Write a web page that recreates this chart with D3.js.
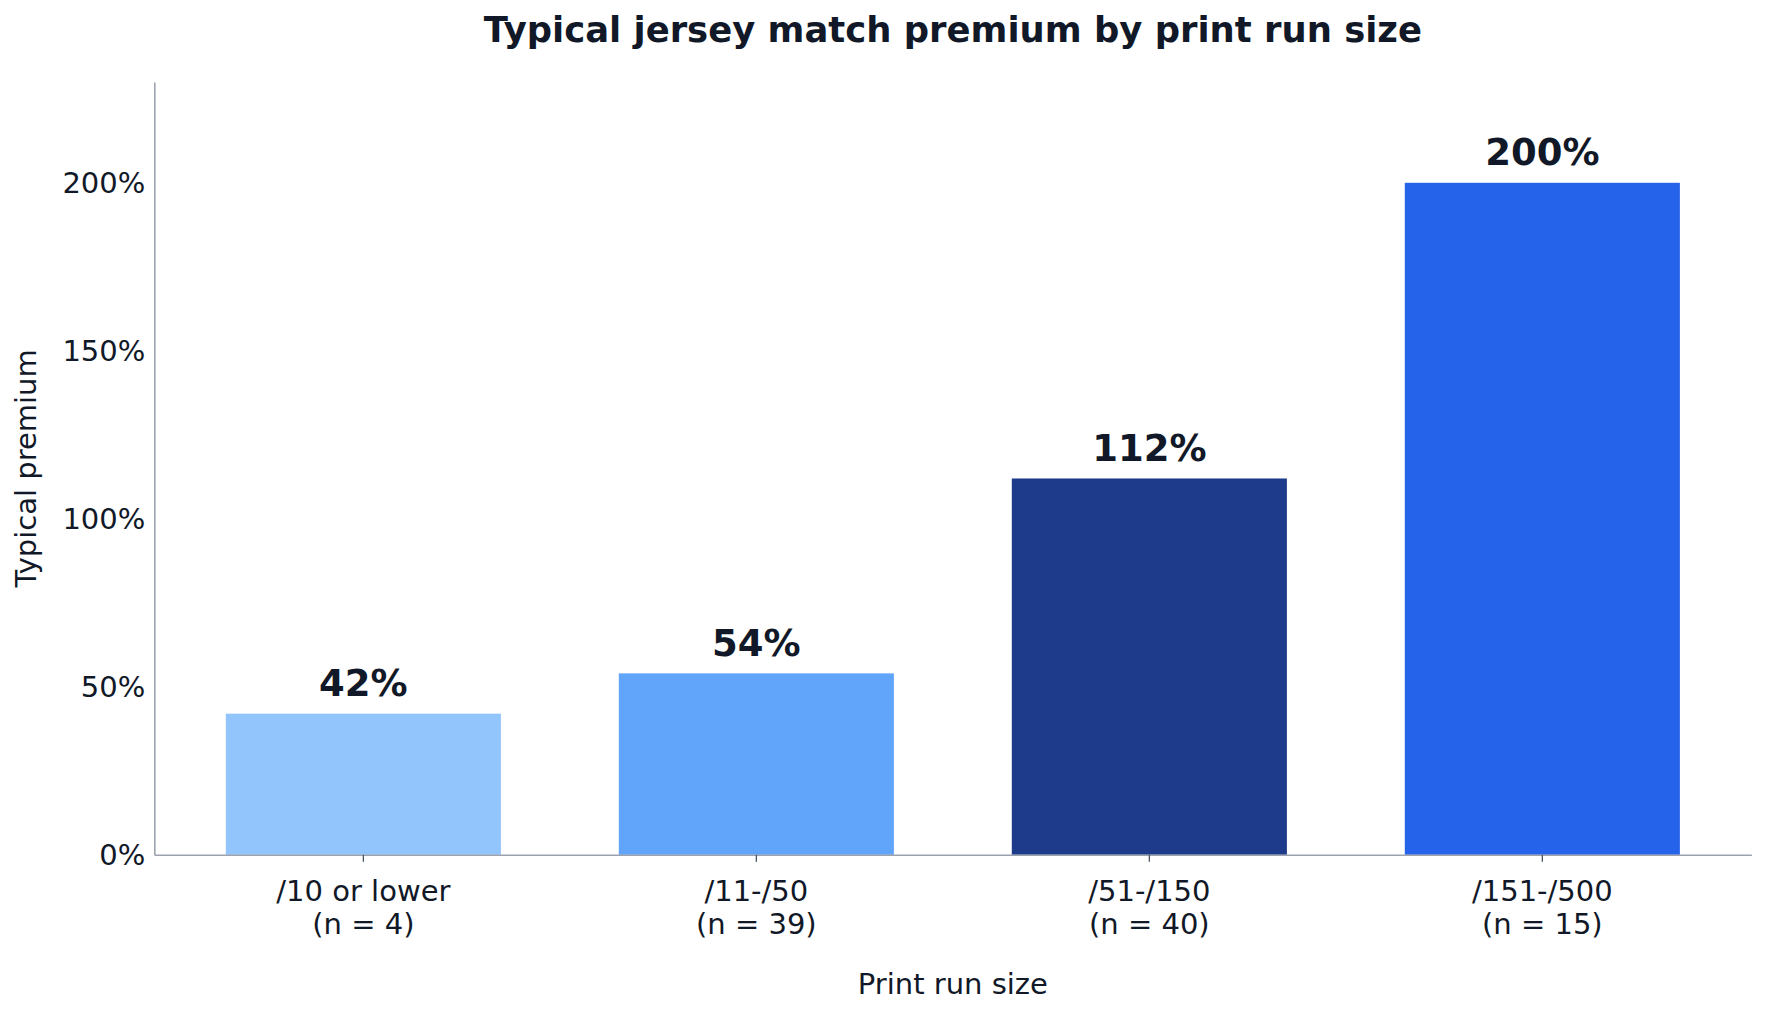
<!DOCTYPE html>
<html>
<head>
<meta charset="utf-8">
<script src="https://cdn.jsdelivr.net/npm/d3@7"></script>
<style>
  html, body { margin: 0; padding: 0; background: #fff; }
  svg { display: block; font-family: 'DejaVu Sans', sans-serif; }
</style>
</head>
<body>
<svg id="chart" width="1766" height="1014"></svg>
<script>
'use strict';

const categories = ['/10 or lower', '/11-/50', '/51-/150', '/151-/500'];
const sampleSizes = [4, 39, 40, 15];
const premiums = [42, 54, 112, 200];
const barColors = ['#93c5fd', '#60a5fa', '#1e3a8a', '#2563eb'];
const yTicks = [0, 50, 100, 150, 200];

const svg = d3.select('#chart');
const width = +svg.attr('width');
const height = +svg.attr('height');

const margin = { top: 82, right: 14.6, bottom: 159.2, left: 154.3 };
const textColor = '#111827';
const axisColor = '#9ca3af';
const fontFamily = 'DejaVu Sans';

const x = d3.scaleBand()
  .domain(categories)
  .range([margin.left, width - margin.right])
  .paddingInner(0.3)
  .paddingOuter(0.182);

const y = d3.scaleLinear()
  .domain([0, 230])
  .range([height - margin.bottom, margin.top]);

const rows = categories.map((c, i) => ({
  category: c,
  n: sampleSizes[i],
  value: premiums[i],
  color: barColors[i]
}));

// bars
svg.append('g')
  .selectAll('rect')
  .data(rows)
  .join('rect')
  .attr('x', d => x(d.category))
  .attr('y', d => y(d.value))
  .attr('width', x.bandwidth())
  .attr('height', d => y(0) - y(d.value))
  .attr('fill', d => d.color);

// value labels above bars
svg.append('g')
  .selectAll('text')
  .data(rows)
  .join('text')
  .attr('x', d => x(d.category) + x.bandwidth() / 2)
  .attr('y', d => y(d.value) - 17.5)
  .attr('text-anchor', 'middle')
  .attr('font-family', fontFamily)
  .attr('font-size', 37)
  .attr('font-weight', 'bold')
  .attr('fill', textColor)
  .text(d => `${d.value}%`);

// y axis (no tick marks, spine only)
const yAxis = svg.append('g')
  .attr('transform', `translate(${margin.left},0)`)
  .call(d3.axisLeft(y).tickValues(yTicks).tickSize(0).tickPadding(9).tickFormat(d => `${d}%`));
yAxis.attr('font-family', fontFamily);
yAxis.select('.domain').attr('stroke', axisColor).attr('stroke-width', 1.6);
yAxis.selectAll('text')
  .attr('font-size', 29)
  .attr('font-family', fontFamily)
  .attr('fill', textColor);

// x axis with two-line tick labels
const xAxis = svg.append('g')
  .attr('transform', `translate(0,${y(0)})`)
  .call(d3.axisBottom(x).tickSizeOuter(0).tickSizeInner(7).tickFormat(''));
xAxis.attr('font-family', fontFamily);
xAxis.select('.domain').attr('stroke', axisColor).attr('stroke-width', 1.6);
xAxis.selectAll('.tick line').attr('stroke', '#4b5563').attr('stroke-width', 1.3);

const tickText = xAxis.selectAll('.tick')
  .append('text')
  .attr('text-anchor', 'middle')
  .attr('font-family', fontFamily)
  .attr('font-size', 29)
  .attr('fill', textColor);
tickText.append('tspan')
  .attr('x', 0)
  .attr('y', 46.5)
  .text(d => d);
tickText.append('tspan')
  .attr('x', 0)
  .attr('y', 79.5)
  .text(d => `(n = ${sampleSizes[categories.indexOf(d)]})`);

// axis titles
const plotMidX = (margin.left + width - margin.right) / 2;
svg.append('text')
  .attr('x', plotMidX)
  .attr('y', 994)
  .attr('text-anchor', 'middle')
  .attr('font-family', fontFamily)
  .attr('font-size', 29)
  .attr('fill', textColor)
  .text('Print run size');

svg.append('text')
  .attr('transform', `translate(36,${(y(0) + y(230)) / 2}) rotate(-90)`)
  .attr('text-anchor', 'middle')
  .attr('font-family', fontFamily)
  .attr('font-size', 29)
  .attr('fill', textColor)
  .text('Typical premium');

// title
svg.append('text')
  .attr('x', plotMidX)
  .attr('y', 42)
  .attr('text-anchor', 'middle')
  .attr('font-family', fontFamily)
  .attr('font-size', 35.4)
  .attr('font-weight', 'bold')
  .attr('fill', textColor)
  .text('Typical jersey match premium by print run size');
</script>
</body>
</html>
